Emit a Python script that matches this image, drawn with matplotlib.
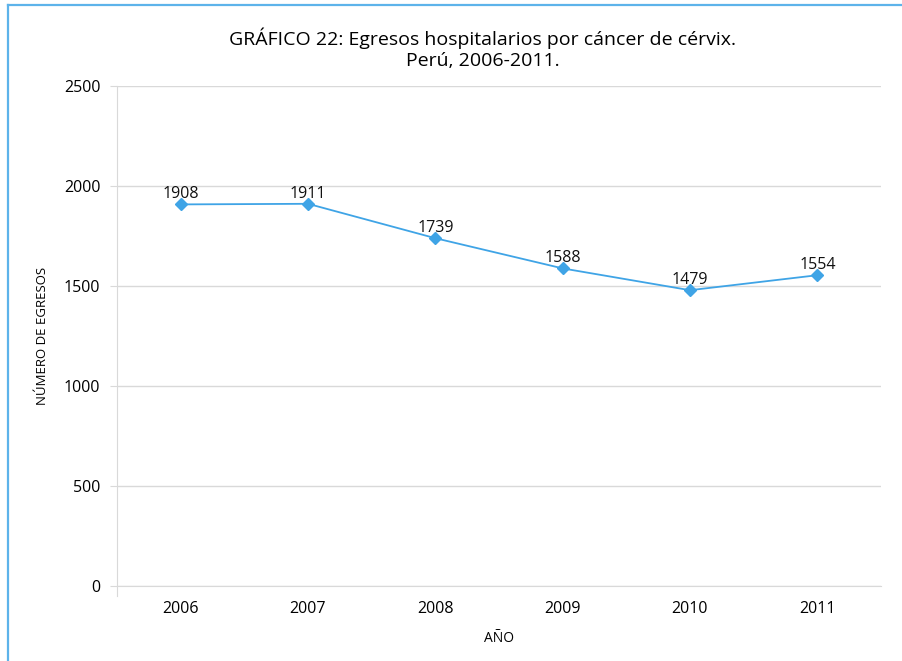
import matplotlib
matplotlib.use("Agg")
import matplotlib.pyplot as plt
from matplotlib.lines import Line2D

plt.rcParams['font.family'] = ['Open Sans', 'DejaVu Sans']

years = ["2006", "2007", "2008", "2009", "2010", "2011"]
egresos = [1908, 1911, 1739, 1588, 1479, 1554]
yticks = [0, 500, 1000, 1500, 2000, 2500]

W, H = 903, 661
fig = plt.figure(figsize=(W / 100, H / 100), dpi=100)

# marco azul del gráfico
frame = "#5DB3EA"
fig.add_artist(Line2D([8 / W, 8 / W], [0, 1 - 5 / H], transform=fig.transFigure, color=frame, lw=1.6))
fig.add_artist(Line2D([8 / W, 1], [1 - 5 / H, 1 - 5 / H], transform=fig.transFigure, color=frame, lw=1.6))

ax = fig.add_axes([117 / W, 1 - 586 / H, (881 - 117) / W, (586 - 86) / H])
x = list(range(len(years)))
ax.plot(x, egresos, color="#3FA4E6", lw=1.3, marker="D", markersize=6.5, zorder=3)
for xi, v in zip(x, egresos):
    ax.annotate(str(v), (xi, v), textcoords="offset points", xytext=(0, 1.5),
                ha="center", va="bottom", fontsize=11.5, color="#111111")

ax.set_xlim(-0.5, len(years) - 0.5)
ax.set_ylim(0, 2500)
ax.set_yticks(yticks)
ax.set_xticks(x)
ax.set_xticklabels(years)
ax.tick_params(axis="y", length=5, color="#D9D9D9", labelsize=11.5, pad=7)
ax.tick_params(axis="x", length=0, labelsize=11.5, pad=11)
ax.grid(axis="y", color="#D9D9D9", lw=1.0)
ax.set_axisbelow(True)
for s in ["top", "right"]:
    ax.spines[s].set_visible(False)
ax.spines["left"].set_color("#D9D9D9")
ax.spines["bottom"].set_color("#D9D9D9")
ax.spines["left"].set_bounds(-0.02 * 2500, 2500)

ax.set_ylabel("NÚMERO DE EGRESOS", fontsize=9.5, labelpad=11)
ax.set_xlabel("AÑO", fontsize=10, labelpad=10)

fig.text(483 / W, 1 - 49 / H, "GRÁFICO 22: Egresos hospitalarios por cáncer de cérvix.\nPerú, 2006-2011.",
         ha="center", va="center", fontsize=14, linespacing=1.25)

fig.savefig("out.png", dpi=100)
